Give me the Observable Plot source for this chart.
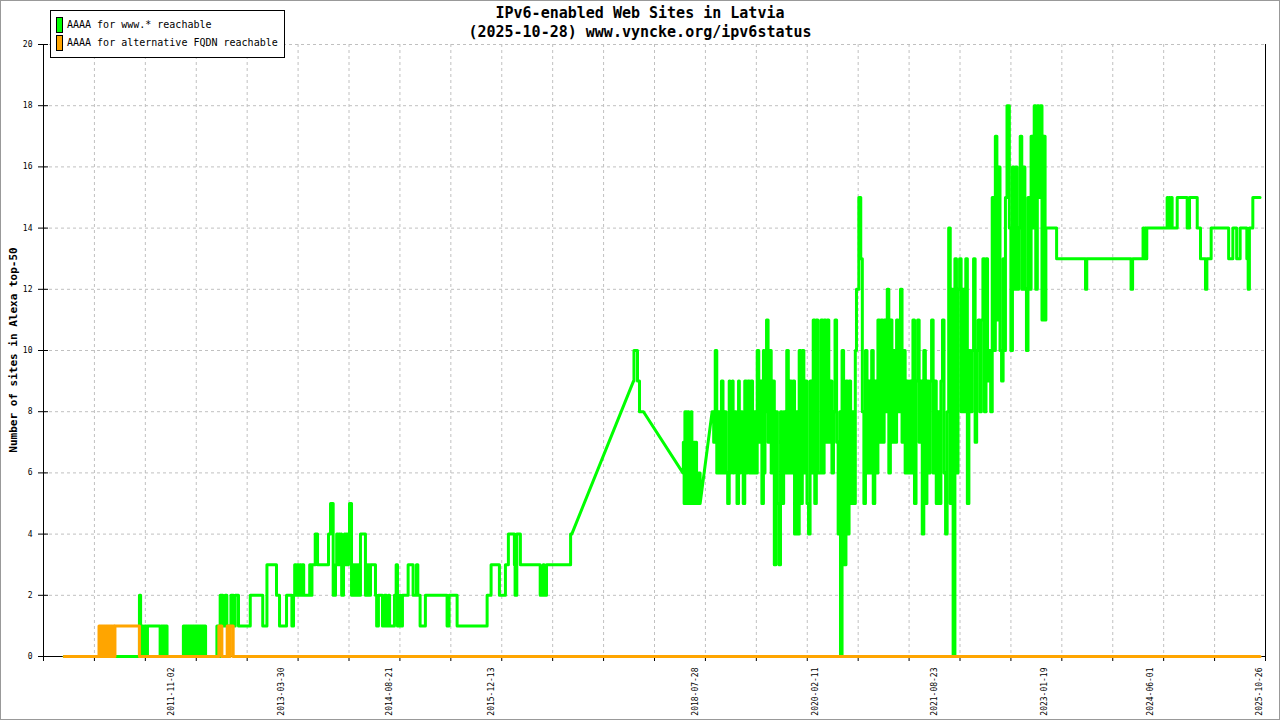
<!DOCTYPE html>
<html>
<head>
<meta charset="utf-8">
<script src="https://cdn.jsdelivr.net/npm/d3@7"></script>
<script src="https://cdn.jsdelivr.net/npm/@observablehq/plot@0.6"></script>
<style>
  body { margin: 0; background: #fff; }
  #wrap { position: relative; width: 1280px; height: 720px; overflow: hidden; font-family: "DejaVu Sans Mono", monospace; }
  #frame { position: absolute; left: 0; top: 0; width: 1278px; height: 718px; border: 1px solid #999; pointer-events: none; }
  #title { position: absolute; left: 0; top: 4px; width: 1280px; text-align: center; font-weight: bold; font-size: 15px; line-height: 19px; }
  #ylabel { position: absolute; left: 13px; top: 350px; transform: translate(-50%, -50%) rotate(-90deg); white-space: nowrap; font-weight: bold; font-size: 11px; }
  #legend { position: absolute; left: 50px; top: 10px; width: 233px; height: 46px; border: 1px solid #000; background: #fff; font-size: 10px; }
  #legend .row { position: absolute; left: 5px; height: 16px; line-height: 16px; white-space: nowrap; }
  #legend .sw { display: inline-block; width: 5px; height: 14px; border: 1px solid #000; vertical-align: top; margin-right: 4px; }
</style>
</head>
<body>
<div id="wrap">
  <div id="chart"></div>
  <div id="title">IPv6-enabled Web Sites in Latvia<br>(2025-10-28) www.vyncke.org/ipv6status</div>
  <div id="ylabel">Number of sites in Alexa top-50</div>
  <div id="legend">
    <div class="row" style="top:6px"><span class="sw" style="background:#00ff00"></span>AAAA for www.* reachable</div>
    <div class="row" style="top:24px"><span class="sw" style="background:#ffa500"></span>AAAA for alternative FQDN reachable</div>
  </div>
  <div id="frame"></div>
</div>
<script>
// change points [decimal year, sites]: the value holds until the next point
const www2010 = [
  [2010.452,0],[2011.420,2],[2011.435,0],[2011.454,1],[2011.467,0],[2011.487,1],[2011.506,0],[2011.523,1],
  [2011.686,0],[2011.700,1],[2011.715,0],[2011.730,1],[2011.745,0],[2011.760,1],[2011.775,0],
  [2011.985,1],[2012.000,0],[2012.015,1],[2012.030,0],[2012.045,1],[2012.060,0],[2012.075,1],[2012.090,0],
  [2012.105,1],[2012.120,0],[2012.135,1],[2012.150,0],[2012.165,1],[2012.180,0],[2012.195,1],[2012.210,0],
  [2012.225,1],[2012.240,0],[2012.255,1],[2012.270,0],
  [2012.415,1],[2012.431,0],[2012.457,2],[2012.492,1],[2012.521,2],[2012.543,1],[2012.595,2],[2012.628,1],
  [2012.650,2],[2012.692,1],[2012.843,2]
]
const www2013 = [
  [2013.003,1],[2013.057,3],[2013.180,2],[2013.219,1],[2013.309,2],[2013.378,1],[2013.399,2],[2013.414,3],
  [2013.434,2],[2013.446,3],[2013.466,2],[2013.479,3],[2013.498,2],[2013.511,3],[2013.530,2],[2013.607,3],
  [2013.627,2],[2013.636,3],[2013.678,4],[2013.708,3],[2013.849,4],[2013.875,5],[2013.909,2],[2013.939,3],
  [2013.954,4],[2013.967,3],[2013.980,4],[2013.993,3],[2014.006,4],[2014.018,2],[2014.042,3],[2014.054,4],
  [2014.067,3],[2014.080,4],[2014.093,3],[2014.106,4],[2014.119,5],[2014.145,2],[2014.170,3],[2014.183,2],
  [2014.196,3],[2014.209,2],[2014.222,3],[2014.235,2],[2014.260,4],[2014.324,2],[2014.337,3],[2014.350,2],
  [2014.363,3],[2014.376,2],[2014.389,3],[2014.453,2],[2014.468,1],[2014.491,2],[2014.543,1],[2014.569,2],
  [2014.594,1],[2014.620,2],[2014.635,1],[2014.697,2],[2014.719,3],[2014.736,1],[2014.761,2],[2014.777,1],
  [2014.800,2],[2014.873,3],[2014.937,2],[2014.980,3],[2014.998,2],[2015.027,1],[2015.095,2],[2015.374,1],
  [2015.400,2],[2015.503,1],[2015.889,2],[2015.940,3],[2016.047,2],[2016.124,3],[2016.162,4],[2016.239,3],
  [2016.248,2],[2016.270,4],[2016.316,3]
]
const www2016 = [
  [2016.570,2],[2016.608,3],[2016.621,2],[2016.651,3],[2016.960,4],[2016.975,4],
  [2017.769,9],[2017.775,10],[2017.820,9],[2017.846,8],[2017.897,8],
  [2018.404,6],[2018.41,7],[2018.42,5],[2018.43,8],[2018.44,5],[2018.45,8],[2018.46,5],[2018.47,8],
  [2018.48,5],[2018.49,7],[2018.50,5],[2018.51,8],[2018.52,5],[2018.53,7],[2018.54,5],[2018.55,7],
  [2018.56,5],[2018.57,7],[2018.58,5],[2018.59,6],[2018.60,5],[2018.61,6],[2018.626,5]
]
const www2019 = [
  [2018.78,8],[2018.80,7],[2018.82,10],[2018.84,6],[2018.86,8],[2018.88,6],[2018.90,9],[2018.92,6],
  [2018.94,8],[2018.96,6],[2018.98,5],[2019.00,9],[2019.01,6],[2019.02,8],[2019.04,9],[2019.05,6],[2019.06,8],
  [2019.08,8],[2019.09,6],[2019.10,5],[2019.12,9],[2019.13,6],[2019.14,8],[2019.16,8],[2019.17,6],[2019.18,5],
  [2019.20,9],[2019.22,6],[2019.23,8],[2019.24,9],[2019.26,6],[2019.28,9],[2019.30,6],[2019.32,8],
  [2019.34,6],[2019.36,10],[2019.38,7],[2019.40,9],[2019.42,5],[2019.44,10],[2019.45,6],[2019.46,8],[2019.48,11],
  [2019.50,7],[2019.52,10],[2019.54,6],[2019.56,9],[2019.58,3],[2019.60,8],[2019.62,5],[2019.64,3],
  [2019.66,8],[2019.68,5],[2019.70,8],[2019.72,6],[2019.74,10],[2019.76,6],[2019.78,9],[2019.80,6],
  [2019.82,9],[2019.84,4],[2019.86,8],[2019.88,4],[2019.90,10],[2019.92,5],[2019.94,10],[2019.96,6],
  [2019.98,9],[2020.00,5],[2020.02,4],[2020.04,9],[2020.06,6],[2020.08,11],[2020.10,5],[2020.12,11],
  [2020.14,6],[2020.16,6],[2020.18,11],[2020.20,6],[2020.22,11],[2020.24,7],[2020.26,11],[2020.28,7],
  [2020.30,9],[2020.32,6],[2020.34,8],[2020.36,11],[2020.38,7],[2020.40,4],[2020.42,8],[2020.43,0],
  [2020.45,10],[2020.47,4],[2020.48,3],[2020.50,9],[2020.52,4],[2020.54,9],[2020.56,5],[2020.58,8],
  [2020.60,5],[2020.62,10],[2020.635,12],[2020.665,15],[2020.69,13],[2020.71,8],[2020.73,5],[2020.75,10],
  [2020.77,6],[2020.79,9],[2020.81,6],[2020.83,10],[2020.85,5],[2020.87,9],[2020.89,6],[2020.91,11],
  [2020.93,7],[2020.95,11],[2020.97,7],[2020.99,11]
]
const www2021 = [
  [2021.01,8],[2021.03,12],[2021.05,6],[2021.07,11],[2021.09,7],[2021.11,10],[2021.13,7],[2021.15,11],
  [2021.17,8],[2021.20,12],[2021.22,7],[2021.24,10],[2021.26,6],[2021.28,9],[2021.30,6],[2021.32,9],
  [2021.34,6],[2021.36,11],[2021.38,5],[2021.40,9],[2021.42,11],[2021.44,7],[2021.46,9],[2021.48,4],
  [2021.50,10],[2021.52,5],[2021.54,9],[2021.56,6],[2021.58,9],[2021.60,11],[2021.62,6],[2021.64,9],
  [2021.66,5],[2021.68,8],[2021.70,5],[2021.72,9],[2021.74,11],[2021.76,6],[2021.78,4],[2021.80,8],
  [2021.82,14],[2021.84,5],[2021.86,12],[2021.877,0],[2021.90,13],[2021.92,6],[2021.94,12],[2021.96,13],
  [2021.98,8],[2022.00,12],[2022.02,8],[2022.04,13],[2022.06,5],[2022.08,10],[2022.10,8],[2022.12,10],
  [2022.14,13],[2022.16,7],[2022.18,10],[2022.20,11],[2022.22,8],[2022.24,11],[2022.26,13],[2022.28,8],
  [2022.30,13],[2022.32,9],[2022.34,10],[2022.36,8],[2022.38,15],[2022.40,10],[2022.42,17],[2022.44,11],
  [2022.46,16],[2022.48,10],[2022.50,9],[2022.52,13],[2022.54,10],[2022.55,15],[2022.57,18],[2022.60,14],
  [2022.62,10],[2022.64,16],[2022.66,12],[2022.68,16],[2022.70,12],[2022.72,14],[2022.74,17],[2022.76,12],
  [2022.78,16],[2022.80,12],[2022.82,10],[2022.84,15],[2022.86,12],[2022.88,17],[2022.90,14],[2022.92,18],
  [2022.94,12],[2022.96,18],[2022.98,15],[2023.00,18],[2023.02,11],[2023.04,17],[2023.06,11]
]
const www2023 = [
  [2023.07,14],[2023.208,13],[2023.580,12],[2023.596,13],[2024.165,12],[2024.185,13],[2024.319,14],
  [2024.332,13],[2024.345,14],[2024.358,13],[2024.367,14],[2024.628,15],[2024.641,14],[2024.654,15],
  [2024.667,14],[2024.680,15],[2024.692,14],[2024.757,15],[2024.885,14],[2024.915,15],[2025.014,14],
  [2025.056,13],[2025.120,12],[2025.138,13],[2025.193,14],[2025.418,13],[2025.472,14],[2025.521,13],
  [2025.566,14],[2025.652,13],[2025.669,12],[2025.685,14],[2025.729,15],[2025.822,15]
]
const altFqdn = [
  [2010.452,0],[2010.900,1],[2010.915,0],[2010.930,1],[2010.945,0],[2010.960,1],[2010.975,0],[2010.990,1],
  [2011.005,0],[2011.020,1],[2011.035,0],[2011.050,1],[2011.065,0],[2011.080,1],[2011.095,0],[2011.105,1],
  [2011.420,0],[2012.440,1],[2012.479,0],[2012.547,1],[2012.573,0],[2012.585,1],[2012.624,0],[2025.822,0]
]
// last sample before a hole in the log: the graph draws a straight line across
const dataGaps = [2016.975, 2017.897, 2018.626]

const xExtent = [2010.186, 2025.892]
const yTicks = [0, 2, 4, 6, 8, 10, 12, 14, 16, 18, 20]
const dateLabels = ['2011-11-02', '2013-03-30', '2014-08-21', '2015-12-13', '2018-07-28',
  '2020-02-11', '2021-08-23', '2023-01-19', '2024-06-01', '2025-10-26']

const toDate = y => {
  const yr = Math.floor(y)
  const s = Date.UTC(yr, 0, 1), e = Date.UTC(yr + 1, 0, 1)
  return new Date(s + (y - yr) * (e - s))
}

// change points -> polyline (hold each value until the next sample)
const expand = points => {
  const out = []
  points.forEach(([t, v], i) => {
    out.push({date: toDate(t), value: v})
    const next = points[i + 1]
    if (next && !dataGaps.includes(t)) out.push({date: toDate(next[0]), value: v})
  })
  return out
}

const www = expand([...www2010, ...www2013, ...www2016, ...www2019, ...www2021, ...www2023])
const alt = expand(altFqdn)

const xDomain = xExtent.map(toDate)
const gridDates = d3.range(25).map(i => new Date(+xDomain[0] + i * (xDomain[1] - xDomain[0]) / 24))
const labelDates = dateLabels.map(d3.utcParse('%Y-%m-%d'))

const grid = {stroke: '#c0c0c0', strokeDasharray: '3,3', strokeOpacity: 1}

const chart = Plot.plot({
  width: 1280,
  height: 720,
  marginLeft: 43,
  marginRight: 15,
  marginTop: 44,
  marginBottom: 64,
  style: {fontFamily: '"DejaVu Sans Mono", monospace', background: 'transparent', overflow: 'visible'},
  x: {type: 'utc', domain: xDomain, label: null},
  y: {domain: [0, 20], label: null},
  marks: [
    Plot.ruleY(yTicks.filter(d => d > 0), grid),
    Plot.ruleX(gridDates.slice(1, -1), grid),
    Plot.axisY({ticks: yTicks, tickSize: 5, tickPadding: 6, fontSize: 8, label: null}),
    Plot.tickY(yTicks, {y: d => d, insetRight: 1217, stroke: 'black'}),
    Plot.axisX({ticks: gridDates, tickSize: 5, tickFormat: () => '', label: null}),
    Plot.axisX({ticks: labelDates, tickSize: 0, tickPadding: 11, tickRotate: -90, fontSize: 8,
      tickFormat: d3.utcFormat('%Y-%m-%d'), label: null}),
    Plot.ruleX([xDomain[0]], {stroke: 'black', insetBottom: -5}),
    Plot.ruleX([xDomain[1]], {stroke: 'black'}),
    Plot.ruleY([0], {stroke: 'black', insetLeft: -5}),
    Plot.line(www, {x: 'date', y: 'value', stroke: '#00ff00', strokeWidth: 3}),
    Plot.line(alt, {x: 'date', y: 'value', stroke: '#ffa500', strokeWidth: 3})
  ]
})

d3.select('#chart').append(() => chart)
</script>
</body>
</html>
